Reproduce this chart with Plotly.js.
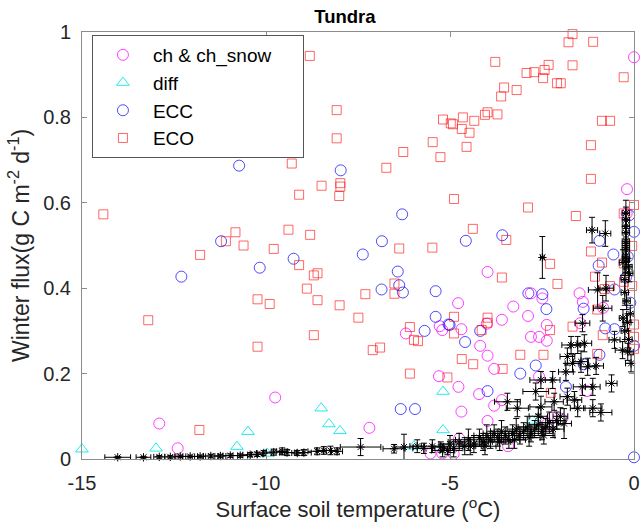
<!DOCTYPE html>
<html>
<head>
<meta charset="utf-8">
<script src="https://cdn.plot.ly/plotly-3.0.1.min.js"></script>
<style>html,body{margin:0;padding:0;background:#fff;}#chart{width:640px;height:531px;}</style>
</head>
<body>
<div id="chart"></div>
<script>
// ch & ch_snow (magenta circles)
const chX = [0.0,-0.19,-5.28,-5.21,-6.20,-3.98,-2.80,-2.49,-3.28,-4.78,-2.88,-3.59,-4.0,-4.69,-2.37,-2.80,-2.58,-2.37,-4.18,-0.2,-1.48,-1.39,-0.84,-1.46,-12.90,-12.40,-5.30,-9.75,-7.19,-5.53,-5.21,-3.98,-3.80,-2.58,-4.77,-4.21,-1.28,-3.59,-3.80,-4.69,-3.98,-2.23,-1.97,-4.75,-4.9,-3.42,-2.35];
const chY = [0.941,0.632,0.311,0.302,0.294,0.438,0.388,0.376,0.357,0.365,0.335,0.326,0.317,0.304,0.314,0.286,0.286,0.277,0.265,0.575,0.388,0.368,0.354,0.318,0.083,0.025,0.194,0.144,0.073,0.013,0.013,0.242,0.211,0.193,0.169,0.152,0.159,0.138,0.125,0.111,0.089,0.097,0.094,0.048,0.012,0.03,0.083];
// diff (cyan triangles)
const diffX = [-15.0,-12.99,-10.79,-10.49,-8.50,-8.29,-7.99,-9.97,-5.19,-5.19,-5.98,-2.76];
const diffY = [0.023,0.025,0.029,0.064,0.119,0.082,0.066,0.013,0.158,0.068,0.030,0.09];
// ECC (blue circles)
const eccX = [-10.73,-7.97,-11.22,-12.30,-10.17,-6.30,-6.85,-7.37,-9.25,-6.42,-6.38,-6.28,-6.86,-5.39,-5.39,-5.04,-5.69,-4.57,-3.58,-2.87,-2.49,-2.38,-5.01,-4.18,-4.59,0.0,-0.13,-0.56,-0.94,-0.96,-0.17,-0.22,-0.53,-0.10,-1.37,-0.78,-0.53,0.0,-6.34,-5.95,0.0,-0.94,-1.37,-2.67,-3.09,-3.98,-1.85];
const eccY = [0.687,0.676,0.510,0.427,0.448,0.573,0.510,0.479,0.469,0.439,0.407,0.390,0.397,0.393,0.333,0.315,0.300,0.511,0.524,0.388,0.386,0.351,0.314,0.300,0.274,0.532,0.571,0.479,0.511,0.453,0.474,0.425,0.397,0.366,0.352,0.306,0.304,0.265,0.117,0.117,0.004,0.244,0.222,0.219,0.200,0.159,0.169];
// ECO (red squares)
const ecoX = [-8.81,-8.08,-8.08,-9.30,-8.49,-7.98,-7.98,-6.73,-6.27,-5.47,-5.19,-4.98,-5.26,-1.67,-1.78,-1.11,-3.77,-2.92,-2.71,-2.43,-2.32,-2.47,-1.67,-0.28,-2.09,-1.99,-3.53,-3.19,-3.61,-3.98,-4.05,-3.71,-4.92,-4.65,-4.34,-4.68,-4.47,-4.55,-0.87,-0.65,-1.17,-1.17,-14.42,-11.09,-10.83,-10.61,-11.79,-13.20,-10.23,-10.23,-9.10,-8.01,-9.39,-8.80,-9.79,-6.38,-5.48,-9.10,-8.70,-8.60,-6.51,-6.51,-8.89,-7.30,-9.90,-8.60,-8.00,-7.49,-6.09,-5.98,-5.87,-8.70,-7.10,-6.90,-4.89,-2.88,-1.58,0.0,-4.38,-3.47,-2.28,-3.59,-2.08,-4.89,-3.98,-3.98,-4.89,-4.14,-2.28,-0.28,-1.17,-0.87,-0.28,-0.05,-1.06,-0.27,-0.05,-0.65,-0.8,-1.0,-1.67,0.0,0.0,-0.85,-11.81,-6.09,-5.07,-4.68,-4.37,-3.57,-3.09,-2.46,0.0,-1.0,-2.26];
const ecoY = [0.944,0.817,0.751,0.692,0.640,0.646,0.638,0.682,0.719,0.742,0.795,0.786,0.707,0.995,0.976,0.977,0.930,0.904,0.906,0.911,0.923,0.892,0.922,0.894,0.880,0.880,0.870,0.864,0.849,0.812,0.806,0.807,0.784,0.800,0.792,0.773,0.764,0.731,0.792,0.792,0.735,0.656,0.573,0.510,0.531,0.500,0.478,0.325,0.374,0.263,0.619,0.616,0.537,0.525,0.492,0.493,0.495,0.454,0.430,0.435,0.411,0.387,0.399,0.386,0.363,0.372,0.360,0.331,0.309,0.279,0.276,0.290,0.255,0.261,0.609,0.589,0.569,0.595,0.539,0.513,0.457,0.425,0.410,0.333,0.331,0.319,0.294,0.302,0.302,0.575,0.486,0.460,0.458,0.499,0.427,0.415,0.405,0.405,0.398,0.350,0.310,0.315,0.286,0.290,0.068,0.200,0.191,0.234,0.222,0.211,0.244,0.244,0.258,0.246,0.155];
// observations (black stars with error bars)
const obsX = [-14.03,-13.33,-12.9,-12.6,-12.33,-12.06,-11.79,-11.5,-11.24,-10.97,-10.7,-10.43,-10.24,-10.06,-9.79,-9.56,-9.43,-9.15,-8.97,-8.61,-8.43,-8.25,-8.07,-7.43,-6.52,-6.25,-5.89,-5.71,-5.48,-5.25,-5.07,
  -5.2,-5.0,-4.9,-4.75,-4.6,-4.5,-4.35,-4.2,-4.1,-4.0,-3.9,-3.8,-3.7,-3.6,-3.5,-3.4,-3.3,-3.2,-3.1,-3.0,-2.9,-2.8,-2.7,-2.6,-2.5,-2.4,-2.3,-2.2,-2.1,-2.0,-4.45,-4.05,-3.65,-3.25,-2.85,-2.45,
  -3.44,-3.17,-2.53,-2.17,-1.53,-1.12,-0.90,-2.6,-1.90,-1.81,-1.62,-1.40,-1.12,-0.61,-2.67,-2.53,-2.21,-1.85,-1.67,-1.44,-1.26,-1.03,-1.81,-1.71,-1.53,-1.35,-0.53,-0.31,-0.17,-0.08,-1.40,-0.85,-0.99,-0.76,-1.14,-0.78,-2.49,
  -0.22,-0.22,-0.22,-0.22,-0.22,-0.22,-0.22,-0.22,-0.22,-0.13,-0.20,-0.25,-0.25,-0.15,-0.30,-0.18,-0.10,-0.25,-0.15,-0.30];
const obsY = [0.004,0.004,0.005,0.005,0.006,0.006,0.006,0.007,0.007,0.008,0.008,0.010,0.011,0.014,0.016,0.018,0.015,0.014,0.015,0.018,0.020,0.020,0.018,0.028,0.024,0.028,0.030,0.025,0.030,0.028,0.020,
  0.020,0.035,0.025,0.040,0.030,0.045,0.035,0.050,0.040,0.055,0.045,0.060,0.050,0.065,0.055,0.045,0.060,0.070,0.055,0.065,0.075,0.060,0.070,0.080,0.065,0.075,0.085,0.070,0.090,0.100,0.030,0.030,0.040,0.045,0.050,0.055,
  0.134,0.119,0.122,0.134,0.119,0.119,0.109,0.100,0.083,0.146,0.138,0.169,0.169,0.177,0.158,0.185,0.185,0.204,0.224,0.228,0.216,0.218,0.240,0.267,0.267,0.271,0.279,0.255,0.251,0.224,0.318,0.353,0.396,0.400,0.536,0.528,0.472,
  0.576,0.560,0.545,0.530,0.510,0.500,0.490,0.475,0.466,0.435,0.370,0.390,0.300,0.280,0.330,0.320,0.340,0.420,0.450,0.460];
const obsXerr = [0.35,0.2,0.15,0.15,0.15,0.2,0.15,0.2,0.15,0.2,0.2,0.2,0.15,0.2,0.2,0.15,0.2,0.15,0.2,0.25,0.2,0.2,0.15,0.55,0.3,0.25,0.2,0.3,0.3,0.25,0.2,
  0.3,0.3,0.25,0.3,0.3,0.35,0.3,0.3,0.25,0.35,0.3,0.3,0.25,0.3,0.35,0.3,0.3,0.25,0.3,0.3,0.25,0.3,0.3,0.25,0.3,0.3,0.25,0.3,0.25,0.2,0.3,0.3,0.3,0.3,0.3,0.3,
  0.35,0.3,0.3,0.25,0.2,0.25,0.3,0.25,0.2,0.2,0.2,0.25,0.2,0.15,0.35,0.3,0.2,0.2,0.2,0.2,0.2,0.2,0.2,0.25,0.2,0.2,0.15,0.2,0.15,0.15,0.2,0.25,0.25,0.2,0.15,0.15,0.05,
  0.1,0.1,0.1,0.1,0.1,0.1,0.1,0.1,0.1,0.1,0.1,0.1,0.1,0.1,0.1,0.1,0.1,0.1,0.1,0.1];
const obsYerr = [0.002,0.002,0.003,0.003,0.003,0.003,0.003,0.004,0.004,0.004,0.004,0.005,0.005,0.006,0.007,0.008,0.007,0.006,0.007,0.008,0.009,0.010,0.008,0.020,0.010,0.030,0.015,0.012,0.015,0.012,0.010,
  0.015,0.02,0.02,0.02,0.02,0.025,0.02,0.02,0.02,0.025,0.02,0.02,0.02,0.025,0.02,0.02,0.02,0.025,0.02,0.02,0.025,0.02,0.02,0.025,0.02,0.02,0.025,0.02,0.02,0.02,0.02,0.02,0.02,0.02,0.02,0.02,
  0.02,0.02,0.025,0.02,0.02,0.02,0.02,0.02,0.035,0.02,0.02,0.02,0.02,0.02,0.02,0.02,0.02,0.02,0.02,0.025,0.02,0.02,0.02,0.02,0.02,0.02,0.02,0.02,0.02,0.02,0.02,0.03,0.04,0.03,0.03,0.03,0.049,
  0.03,0.03,0.03,0.03,0.03,0.03,0.03,0.03,0.03,0.02,0.02,0.03,0.02,0.02,0.02,0.02,0.02,0.03,0.02,0.03];

const font = "Liberation Sans, Arial, Helvetica, sans-serif";
const traces = [
  {x: chX, y: chY, type: 'scatter', mode: 'markers', name: 'ch & ch_snow\u00a0\u00a0\u00a0\u00a0\u00a0', legendgroup: 'a',
   marker: {symbol: 'circle-open', size: 11, color: 'rgba(255,0,255,0.75)', line: {width: 1}}, cliponaxis: false},
  {x: diffX, y: diffY, type: 'scatter', mode: 'markers', name: 'diff', legendgroup: 'b',
   marker: {symbol: 'triangle-up-open', size: 11, color: 'rgba(0,230,230,0.85)', line: {width: 1}}, cliponaxis: false},
  {x: eccX, y: eccY, type: 'scatter', mode: 'markers', name: 'ECC', legendgroup: 'c',
   marker: {symbol: 'circle-open', size: 11, color: 'rgba(0,0,255,0.7)', line: {width: 1}}, cliponaxis: false},
  {x: ecoX, y: ecoY, type: 'scatter', mode: 'markers', name: 'ECO', legendgroup: 'd',
   marker: {symbol: 'square-open', size: 9, color: 'rgba(255,0,0,0.6)', line: {width: 1}}, cliponaxis: false},
  {x: obsX, y: obsY, type: 'scatter', mode: 'markers', showlegend: false,
   marker: {symbol: 'asterisk-open', size: 7, color: '#000', line: {width: 1, color: '#000'}},
   error_x: {type: 'data', array: obsXerr, color: '#000', thickness: 1, width: 3},
   error_y: {type: 'data', array: obsYerr, color: '#000', thickness: 1, width: 3}, cliponaxis: false}
];

const axisCommon = {
  showline: true, linecolor: '#8c8c8c', linewidth: 1, mirror: 'ticks',
  ticks: 'inside', ticklen: 5, tickcolor: '#8c8c8c', showgrid: false, zeroline: false,
  tickfont: {family: font, size: 20, color: '#262626'}, ticklabelstandoff: 6
};
const layout = {
  width: 640, height: 531,
  margin: {l: 82, r: 6, t: 32, b: 72},
  paper_bgcolor: '#fff', plot_bgcolor: '#fff',
  font: {family: font, color: '#262626'},
  title: {text: '<b>Tundra</b>', font: {family: font, size: 18.5, color: '#000'}, x: 0.539, xanchor: 'center', y: 0.968, yanchor: 'middle'},
  xaxis: Object.assign({}, axisCommon, {range: [-15, 0], tickvals: [-15, -10, -5, 0], ticktext: ['-15', '-10', '-5', '0'],
    title: {text: 'Surface soil temperature (<sup>o</sup>C)', font: {family: font, size: 22, color: '#262626'}, standoff: 6}}),
  yaxis: Object.assign({}, axisCommon, {range: [0, 1], tickvals: [0, 0.2, 0.4, 0.6, 0.8, 1], ticktext: ['0', '0.2', '0.4', '0.6', '0.8', '1'],
    title: {text: 'Winter flux(g C m<sup>-2</sup> d<sup>-1</sup>)', font: {family: font, size: 23, color: '#262626'}, standoff: 7}}),
  legend: {x: 0.018, y: 0.993, xanchor: 'left', yanchor: 'top', bgcolor: '#fff', bordercolor: '#555', borderwidth: 1,
    font: {family: font, size: 19, color: '#000'}, traceorder: 'grouped', tracegroupgap: 0, itemwidth: 50},
  showlegend: true
};
Plotly.newPlot('chart', traces, layout, {displayModeBar: false, staticPlot: true});
</script>
</body>
</html>
